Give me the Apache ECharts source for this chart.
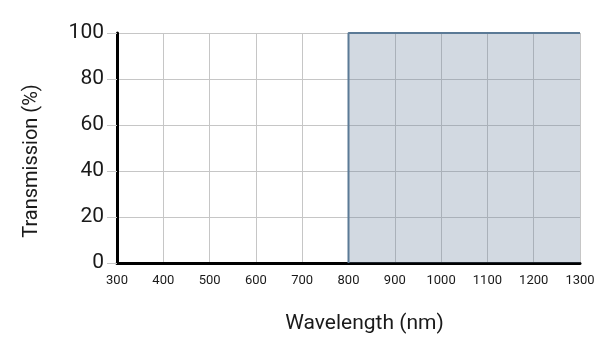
<!DOCTYPE html>
<html>
<head>
<meta charset="utf-8">
<title></title>
<style>
  html, body { margin: 0; padding: 0; background: #fff; }
  #main { width: 610px; height: 337px; }
</style>
</head>
<body>
<div id="main"></div>
<script src="https://cdn.jsdelivr.net/npm/echarts@6/dist/echarts.min.js"></script>
<script type="text/javascript">
  // pass band edge, wavelengths in nm
  var wavelength = [800, 800, 1300];
  var transmission = [0, 100, 100];
  var xTicks = [300, 400, 500, 600, 700, 800, 900, 1000, 1100, 1200, 1300];
  var yTicks = [0, 20, 40, 60, 80, 100];

  var chart = echarts.init(document.getElementById('main'));
  var font = 'Roboto, "Noto Sans", sans-serif';

  var pts = wavelength.map(function (w, i) { return [w, transmission[i]]; });

  var option = {
    animation: false,
    grid: { left: 117, right: 30, top: 33, bottom: 74, outerBoundsMode: 'none', containLabel: false },
    xAxis: {
      type: 'value',
      min: xTicks[0],
      max: xTicks[xTicks.length - 1],
      interval: 100,
      name: 'Wavelength (nm)',
      nameLocation: 'middle',
      nameGap: 50,
      nameTextStyle: { fontFamily: font, fontSize: 21, color: '#1a1a1a', padding: [0, 0, 0, 32] },
      axisLine: { show: true, lineStyle: { color: '#000', width: 3 } },
      axisTick: { show: false },
      axisLabel: { fontFamily: font, fontSize: 13, color: '#1a1a1a', margin: 11, formatter: function (v) { return String(v); } },
      splitLine: { show: true, lineStyle: { color: '#c6c6c6', width: 1 } }
    },
    yAxis: {
      type: 'value',
      min: yTicks[0],
      max: yTicks[yTicks.length - 1],
      interval: 20,
      name: 'Transmission (%)',
      nameLocation: 'middle',
      nameGap: 75,
      nameTextStyle: { fontFamily: font, fontSize: 20, color: '#1a1a1a', padding: [0, 26, 0, 0] },
      axisLine: { show: true, lineStyle: { color: '#000', width: 3 } },
      axisTick: { show: true, length: 10, lineStyle: { color: '#c6c6c6' } },
      axisLabel: { fontFamily: font, fontSize: 21, color: '#1a1a1a', margin: 13 },
      splitLine: { show: true, lineStyle: { color: '#c6c6c6', width: 1 } }
    },
    series: [{
      type: 'line',
      data: pts,
      symbol: 'none',
      lineStyle: { color: '#5b7a96', width: 2 },
      areaStyle: { color: 'rgb(105,130,155)', opacity: 0.3 }
    }]
  };
  chart.setOption(option);
</script>
</body>
</html>
